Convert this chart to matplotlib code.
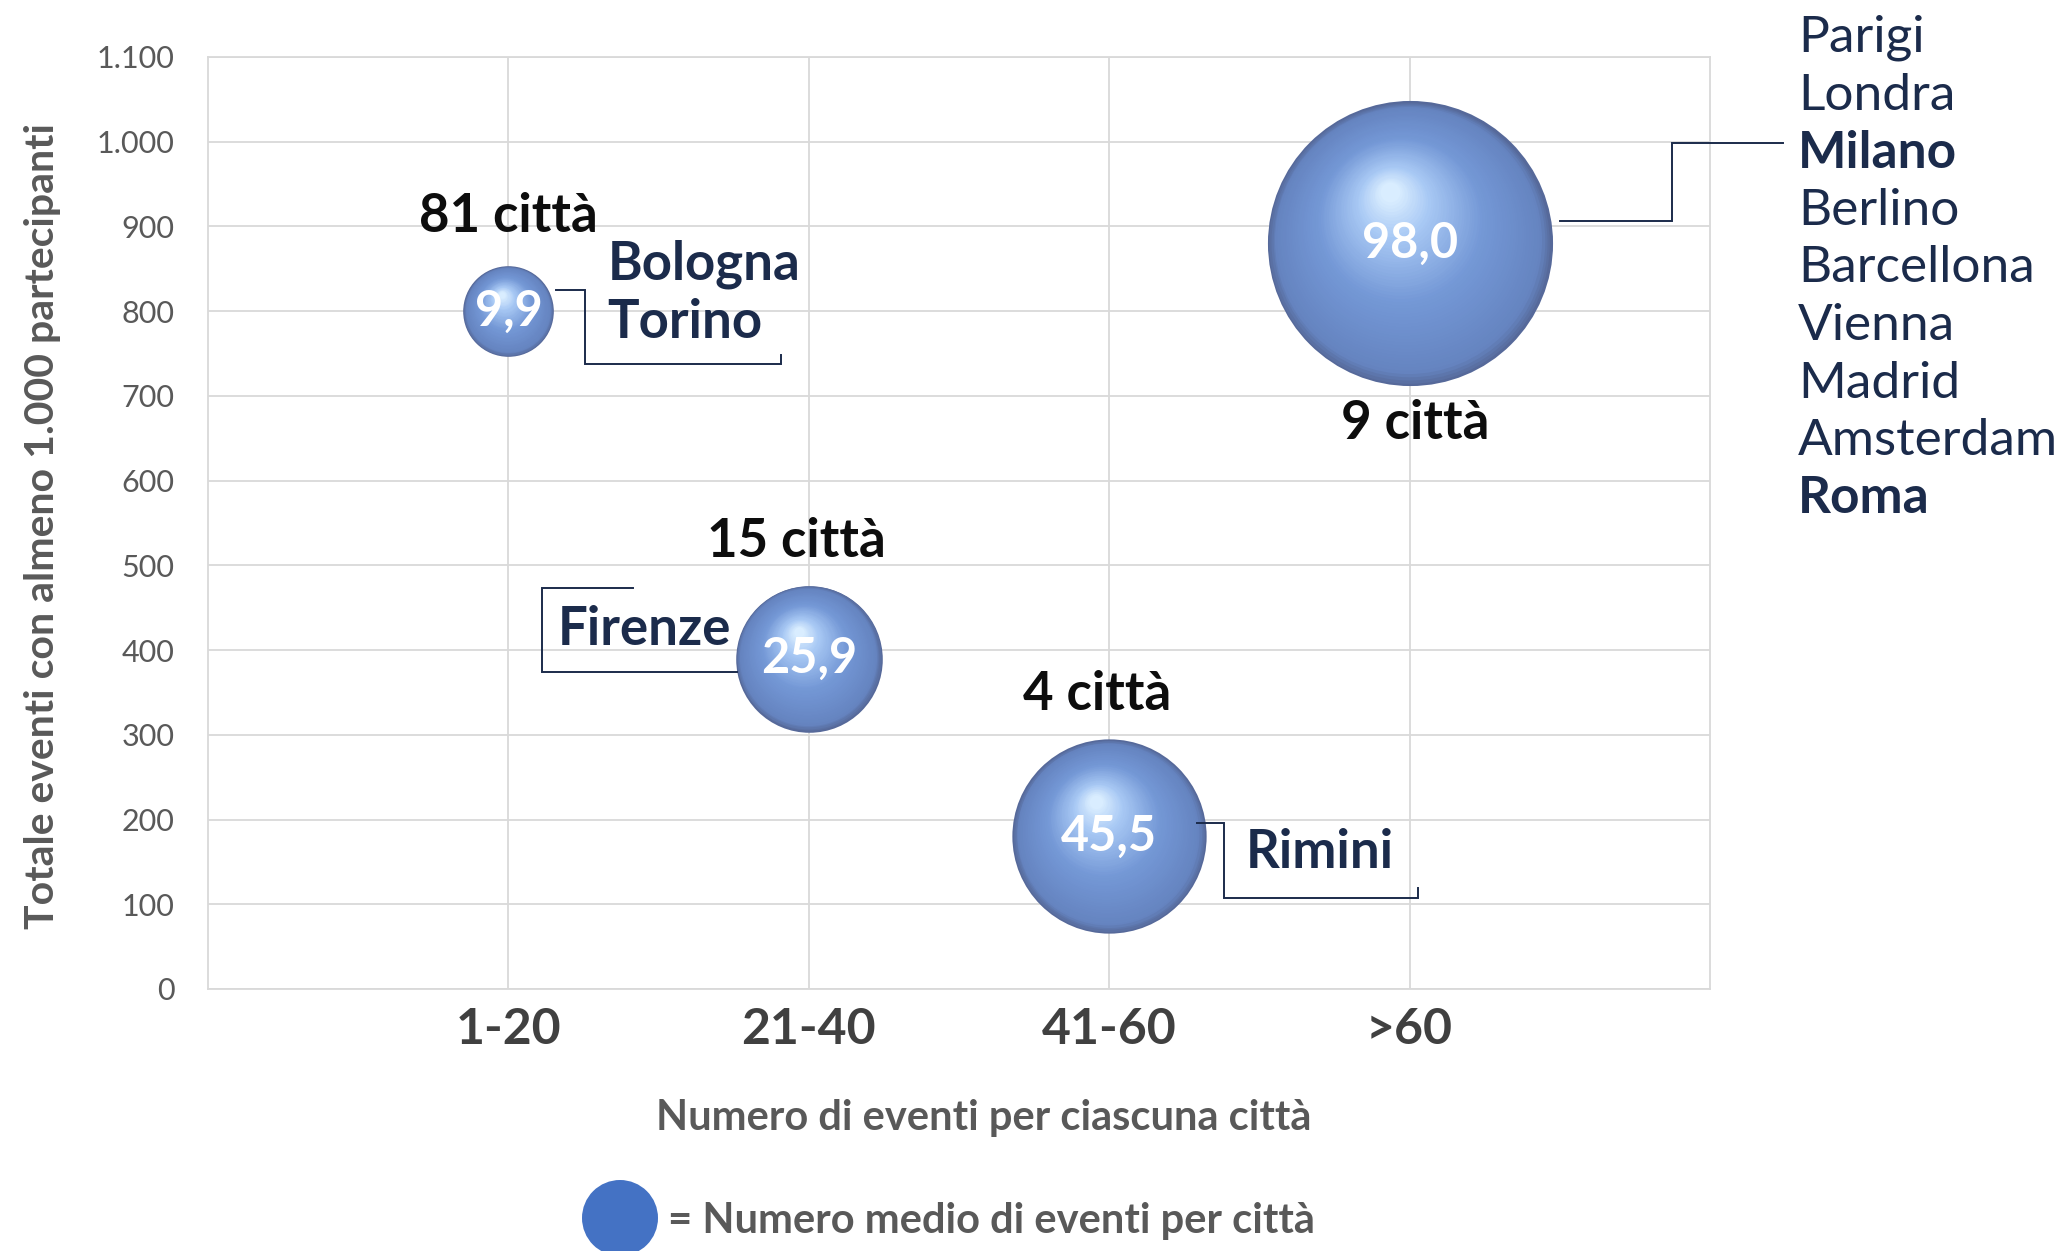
import matplotlib
matplotlib.use('Agg')
import matplotlib.pyplot as plt
import numpy as np
from matplotlib.transforms import offset_copy
from matplotlib.colors import to_rgb
from matplotlib.patches import Ellipse

plt.rcParams['font.family'] = ['Lato', 'DejaVu Sans']

# ---------------- data ----------------
categories = ['1-20', '21-40', '41-60', '>60']
totale_eventi = [800, 390, 180, 880]          # y value of each bubble
media_eventi = [9.9, 25.9, 45.5, 98.0]        # bubble size (mean events per city)
media_labels = ['9,9', '25,9', '45,5', '98,0']
num_citta = ['81 città', '15 città', '4 città', '9 città']
y_ticks = [0, 100, 200, 300, 400, 500, 600, 700, 800, 900, 1000, 1100]
y_tick_labels = ['0', '100', '200', '300', '400', '500', '600', '700', '800',
                 '900', '1.000', '1.100']
citta_grandi = ['Parigi', 'Londra', 'Milano', 'Berlino', 'Barcellona',
                'Vienna', 'Madrid', 'Amsterdam', 'Roma']
citta_grandi_bold = [False, False, True, False, False, False, False, False, True]
citta_italiane = ['Bologna', 'Torino', 'Firenze', 'Rimini']

# ---------------- layout (annotation positions in data coords) ----------------
count_label_pos = [(1.00, 912), (1.96, 528), (2.96, 347), (4.02, 667)]
ital_label_pos = [(1.330, 855), (1.330, 787), (1.163, 424), (3.455, 161)]
callout_lines = [
    [(1.160, 825), (1.254, 825), (1.254, 738), (1.906, 738), (1.906, 748)],
    [(1.416, 473), (1.113, 473), (1.113, 374), (1.760, 374)],
    [(3.291, 196), (3.381, 196), (3.381, 107), (4.027, 107), (4.027, 119)],
    [(4.500, 906), (4.873, 906), (4.873, 999), (5.243, 999)],
]

NAVY = '#1b2b4b'
GRID = '#d9d9d9'

W, H = 2063, 1251
fig = plt.figure(figsize=(W / 100, H / 100), dpi=100)
ax = fig.add_axes([208 / W, 1 - 989 / H, (1710 - 208) / W, (989 - 57) / H])

ax.set_xlim(0, 5)
ax.set_ylim(0, 1100)
ax.set_xticks([1, 2, 3, 4])
ax.set_xticklabels(categories, fontsize=36, fontweight='bold', color='#404040')
ax.set_yticks(y_ticks)
ax.set_yticklabels(y_tick_labels, fontsize=22, color='#595959')
ax.tick_params(axis='both', length=0)
ax.tick_params(axis='y', pad=24)
ax.tick_params(axis='x', pad=13)
for lab in ax.get_xticklabels():
    lab.set_x(lab.get_position()[0])
ax.grid(True, color=GRID, lw=1.3)
ax.set_axisbelow(True)
for s in ax.spines.values():
    s.set_color(GRID)
    s.set_linewidth(1.3)

# ---------------- shaded bubbles ----------------
stops = [(0.0, '#56699a'), (0.07, '#6584c0'), (0.45, '#7498d6'),
         (0.80, '#a8c8f4'), (1.0, '#d9edff')]
st_t = np.array([s[0] for s in stops])
st_c = np.array([to_rgb(s[1]) for s in stops])


def ramp(t):
    return tuple(np.interp(t, st_t, st_c[:, i]) for i in range(3))


SIZE_K = 430.0
N = 60
for xi, (yv, v) in enumerate(zip(totale_eventi, media_eventi)):
    x = xi + 1
    s_full = SIZE_K * v
    r_pt = np.sqrt(s_full) / 2
    for k in range(N):
        t = k / (N - 1)
        frac = 1 - 0.93 * t
        dx = -0.14 * r_pt * t
        dy = 0.36 * r_pt * t
        tr = offset_copy(ax.transData, fig=fig, x=dx, y=dy, units='points')
        ax.scatter([x], [yv], s=s_full * frac ** 2, color=ramp(t),
                   linewidths=0, transform=tr, zorder=3 + k * 0.001,
                   clip_on=False)
    ax.text(x, yv, media_labels[xi], ha='center', va='center', color='white',
            fontsize=35, fontweight='bold', zorder=5)

# count labels
for (px, py), lab in zip(count_label_pos, num_citta):
    ax.text(px, py, lab, ha='center', va='center', fontsize=38,
            fontweight='bold', color='#0d0d0d', zorder=6)

# italian city labels
for (px, py), lab in zip(ital_label_pos, citta_italiane):
    ax.text(px, py, lab, ha='left', va='center', fontsize=38,
            fontweight='bold', color=NAVY, zorder=6)

for line in callout_lines:
    xs, ys = zip(*line)
    ax.plot(xs, ys, color=NAVY, lw=1.4, clip_on=False, zorder=6,
            solid_joinstyle='miter')

# right list of big cities
for i, (name, b) in enumerate(zip(citta_grandi, citta_grandi_bold)):
    fig.text(1798 / W, 1 - (38 + 57.6 * i) / H, name, ha='left', va='center',
             fontsize=37, fontweight='bold' if b else 'normal', color=NAVY)

# axis titles
fig.text(43 / W, 1 - 526 / H, 'Totale eventi con almeno 1.000 partecipanti',
         rotation=90, ha='center', va='center', fontsize=29.5,
         fontweight='bold', color='#595959')
fig.text(984 / W, 1 - 1118 / H, 'Numero di eventi per ciascuna città',
         ha='center', va='center', fontsize=30, fontweight='bold',
         color='#595959')

# legend
fig.add_artist(Ellipse((620 / W, 1 - 1218 / H), width=76 / W, height=76 / H,
                       transform=fig.transFigure, facecolor='#4472c4',
                       edgecolor='none'))
fig.text(668 / W, 1 - 1221 / H, '= Numero medio di eventi per città',
         ha='left', va='center', fontsize=30, fontweight='bold',
         color='#595959')

fig.savefig('out.png', dpi=100, facecolor='white')
